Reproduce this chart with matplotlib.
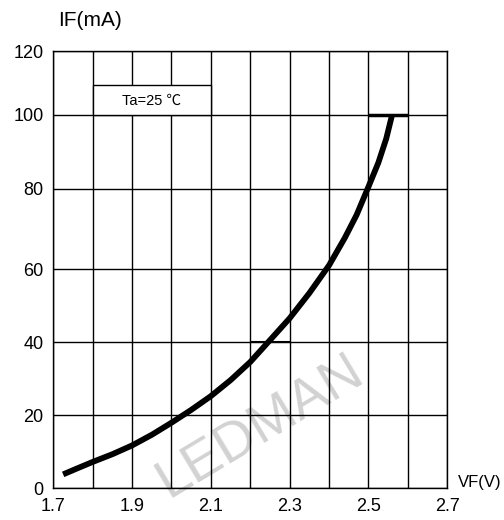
import numpy as np
import matplotlib
matplotlib.use("Agg")
import matplotlib.pyplot as plt
from matplotlib.patches import Rectangle

plt.rcParams['font.family'] = ['Liberation Sans', 'DejaVu Sans']

# ---- data ----
vf = [1.725, 1.76, 1.80, 1.85, 1.90, 1.95, 2.00, 2.05, 2.10, 2.15, 2.20, 2.245,
      2.30, 2.35, 2.40, 2.44, 2.47, 2.50, 2.525, 2.545, 2.56]
i_f = [3.8, 5.4, 7.2, 9.3, 11.7, 14.6, 17.9, 21.4, 25.2, 29.6, 34.6, 40.0,
       46.6, 53.5, 61.0, 67.8, 73.5, 80.5, 87.0, 93.5, 100.0]
x_ticks = [1.7, 1.9, 2.1, 2.3, 2.5, 2.7]
x_ticklabels = ['1.7', '1.9', '2.1', '2.3', '2.5', '2.7']
x_grid = [1.7, 1.8, 1.9, 2.0, 2.1, 2.2, 2.3, 2.4, 2.5, 2.6, 2.7]
y_ticks = [0, 20, 40, 60, 80, 100, 120]
y_ticklabels = ['0', '20', '40', '60', '80', '100', '120']
marker_100 = (2.5, 2.6, 100)
marker_40 = (2.2, 2.3, 40)
note_text = 'Ta=25 \u2103'
xlabel = 'VF(V)'
ylabel = 'IF(mA)'
watermark = 'LEDMAN'

# non-uniform vertical grid spacing of the original (screen units)
lvl = np.array([-100, 0, 20, 40, 60, 80, 100, 120, 300], float)
scr = np.array([-366.5, 0, 73.3, 146.0, 219.0, 299.8, 373.6, 437.3, 1010.0], float)

def fwd(y):
    return np.interp(y, lvl, scr)

def inv(s):
    return np.interp(s, scr, lvl)

fig = plt.figure(figsize=(5.04, 5.20), dpi=100)
L, R, B, T = 53.3, 447.3, 488.3, 51.0
ax = fig.add_axes([L / 504, (520 - B) / 520, (R - L) / 504, (B - T) / 520])
ax.set_yscale('function', functions=(fwd, inv))
ax.set_xlim(1.7, 2.7)
ax.set_ylim(0, 120)

lw_grid = 1.0
ax.vlines(x_grid, 0, 120, colors='black', linewidth=lw_grid, zorder=1)
ax.hlines(y_ticks, 1.7, 2.7, colors='black', linewidth=lw_grid, zorder=1)

# note box
ax.add_patch(Rectangle((1.8, 100), 0.3, 9.4, facecolor='white', edgecolor='black',
                       linewidth=lw_grid, zorder=2))
ax.text(1.95, 104.3, note_text, ha='center', va='center', fontsize=10.5, zorder=3,
        family=['Liberation Sans', 'Noto Sans CJK SC', 'DejaVu Sans'])

# watermark
ax.text(268 / 504, 1 - 439 / 520, watermark, transform=fig.transFigure, rotation=31,
        rotation_mode='anchor', ha='center', va='baseline', fontsize=40,
        color='#d2d2d2', zorder=0.5)

# curve and markers
ax.plot(vf, i_f, color='black', linewidth=4.2, solid_capstyle='butt',
        solid_joinstyle='round', zorder=4)
ax.hlines(marker_100[2], marker_100[0], marker_100[1], colors='black', linewidth=2.5, zorder=4)
ax.hlines(marker_40[2], marker_40[0], marker_40[1], colors='black', linewidth=1.5, zorder=4)

for s in ax.spines.values():
    s.set_linewidth(lw_grid)
ax.set_xticks(x_ticks)
ax.set_xticklabels(x_ticklabels, fontsize=13)
ax.set_yticks(y_ticks)
ax.set_yticklabels(y_ticklabels, fontsize=13)
ax.tick_params(axis='x', length=0, pad=7)
ax.tick_params(axis='y', length=0, pad=7)
ax.minorticks_off()

fig.text(90 / 504, 1 - 20 / 520, ylabel, ha='center', va='center', fontsize=15)
fig.text(480 / 504, 1 - 482 / 520, xlabel, ha='center', va='center', fontsize=12)

fig.savefig('out.png', dpi=100)
